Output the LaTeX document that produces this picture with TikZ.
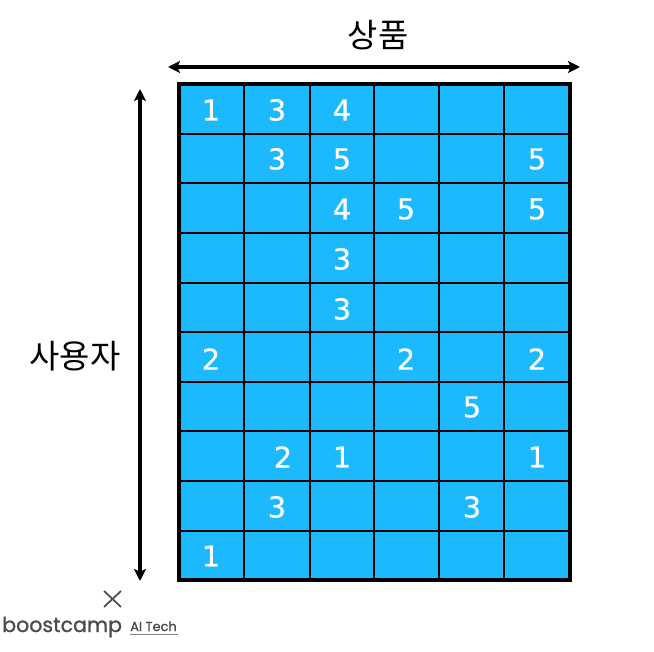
\documentclass[tikz,border=0pt]{standalone}
\usepackage{fontspec}
\setmainfont{DejaVu Sans}
\newfontfamily\numfont[FakeBold=0.6]{DejaVu Sans}
\newfontfamily\korfont{Noto Sans CJK KR}
\newfontfamily\logofont[FakeBold=1.2]{Poppins}
\usetikzlibrary{arrows.meta,positioning}

\begin{document}
\begin{tikzpicture}[
    x = 0.75pt, y = -0.75pt,
    > = {Stealth[length=9pt,width=9pt,inset=2pt]}, % arrow head style
    cell/.style = {draw=black, line width=0.85pt, inner sep=0pt},
    num/.style = {text=white, font=\numfont\fontsize{21.5}{24}\selectfont, inner sep=0pt},
    title/.style = {text=black, font=\korfont\fontsize{24.7}{28}\selectfont, inner sep=0pt},
    span/.style = {<->, line width=2.6pt, shorten >=0pt, shorten <=0pt},
    logo/.style = {text=black!70, inner sep=0pt, anchor=base west}
    ]
\useasboundingbox (0,0) rectangle (654,652);
\definecolor{cellblue}{HTML}{1DB9FF}

    % the board
    \node[fill=cellblue, minimum width=293.25pt, minimum height=372pt, inner sep=0pt] (board) at (374.5,332) {};
    \foreach \y/\b [count=\r] in {84/134,134/183,183/233,233/283,283/332,332/382,382/431,431/481,481/531,531/580}
        \foreach \x/\e [count=\c] in {179/244,244/310,310/374,374/439,439/504,504/570}
            \draw[cell] (\x,\y) rectangle (\e,\b) coordinate (cell-\r-\c);
    \node[draw=black, line width=3pt, minimum width=293.25pt, minimum height=372pt, inner sep=0pt] (frame) at (374.5,332) {};

    % the ratings
    \foreach \x/\y/\v in {
        211/110/1, 277/110/3, 342/110/4,
        277/159/3, 342/159/5, 537/159/5,
        342/209/4, 406/209/5, 537/209/5,
        342/259/3,
        342/309/3,
        211/359/2, 406/359/2, 537/359/2,
        472/407/5,
        283/457/2, 342/457/1, 537/457/1,
        277/507/3, 472/507/3,
        211/556/1}
        \node[num] at (\x,\y) {\v};

    % the axes
    \coordinate (itemL) at (168,67);
    \coordinate (itemR) at (580,67);
    \coordinate (userT) at (140,89);
    \coordinate (userB) at (140,581);
    \path [span] (itemL) edge (itemR);
    \path [span, line width=2.4pt] (userT) edge (userB);
    \node[title] (item) at (378,35) {상품};
    \node[title] (user) at (75,356) {사용자};

    % the logo
    \coordinate (crossA) at (104,591);
    \coordinate (crossB) at (121,607);
    \coordinate (crossC) at (121,591);
    \coordinate (crossD) at (104,607);
    \draw[black!70, line width=1.3pt] (crossA) -- (crossB);
    \draw[black!70, line width=1.3pt] (crossC) -- (crossD);
    \node[logo, font=\logofont\fontsize{15.4}{18}\selectfont] (boost) at (2,632) {boostcamp};
    \node[logo, font=\logofont\fontsize{9.7}{11}\selectfont] (tech) at (130,631) {AI Tech};
    \coordinate (barA) at (130,634.5);
    \coordinate (barB) at (178,634.5);
    \draw[black!50, line width=1pt] (barA) -- (barB);
\end{tikzpicture}
\end{document}
